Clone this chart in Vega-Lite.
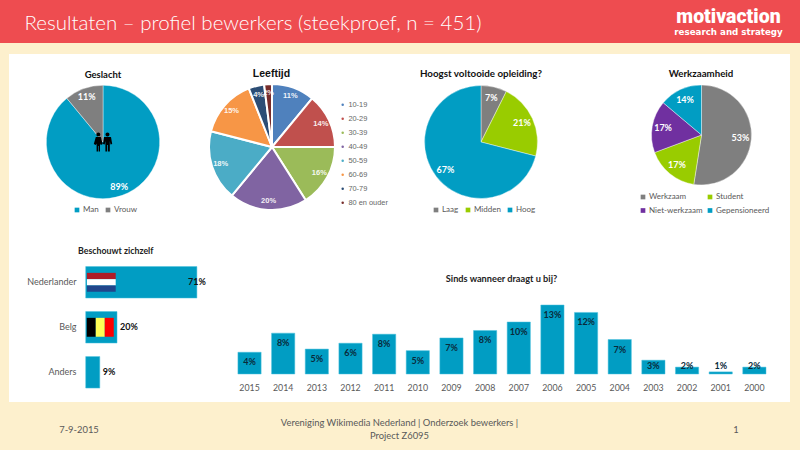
{
"$schema":"https://vega.github.io/schema/vega-lite/v6.json",
"background":"#FDF0CD",
"padding":0,
"config":{"view":{"stroke":null},"concat":{"spacing":0},"font":"Lato",
 "legend":{"title":null,"labelFont":"Lato","labelFontSize":8,"labelColor":"#595959","symbolType":"square","symbolSize":22,"symbolStrokeWidth":0,"orient":"none","labelOffset":2}},
"spacing":11,
"resolve":{"scale":{"color":"independent","shape":"independent"},"legend":{"color":"independent"}},
"vconcat":[
 {"hconcat":[
  {"width":657,"height":43,"view":{"fill":"#EE4C50","stroke":null},
   "data":{"values":[{"titel":"Resultaten – profiel bewerkers (steekproef, n = 451)"}]},
   "mark":{"type":"text","font":"Lato","fontWeight":300,"fontSize":20.5,"color":"white","align":"center","baseline":"middle","dx":-75.5,"dy":2},
   "encoding":{"text":{"field":"titel"}}},
  {"width":143,"height":43,"view":{"fill":"#EE4C50","stroke":null},
   "layer":[
    {"data":{"values":[{"logo":"motivaction"}]},
     "mark":{"type":"text","font":"Roboto","fontWeight":900,"fontSize":19.5,"color":"white","align":"center","baseline":"middle","dy":-4.5},
     "encoding":{"text":{"field":"logo"}}},
    {"data":{"values":[{"logo":"research and strategy"}]},
     "mark":{"type":"text","font":"DejaVu Sans","fontWeight":"bold","fontSize":8.7,"color":"white","align":"center","baseline":"middle","dy":10.2},
     "encoding":{"text":{"field":"logo"}}}
   ]}
 ]},
 {"hconcat":[
  {"width":9,"height":348,"view":{"fill":null,"stroke":null},"data":{"values":[{"leeg":""}]},"mark":"text","encoding":{}},
  {"resolve":{"scale":{"color":"independent","shape":"independent"},"legend":{"color":"independent"}},
   "vconcat":[
   {"resolve":{"scale":{"color":"independent"},"legend":{"color":"independent"}},
    "hconcat":[
    {"width":188,"height":178,"view":{"fill":"white","stroke":null},
     "title":{"text":"Geslacht","font":"Lato","fontSize":9.5,"fontWeight":"bold","color":"#111111","anchor":"middle","frame":"group","offset":-25},
     "data":{"values":[{"geslacht":"Man","pct":89,"label":"89%","i":1},{"geslacht":"Vrouw","pct":11,"label":"11%","i":2}]},
     "layer":[
      {"mark":{"type":"arc","outerRadius":56.7,"yOffset":-1,"stroke":"#FFFFFF","strokeWidth":0.4},
       "encoding":{"theta":{"field":"pct","type":"quantitative","stack":true},"order":{"field":"i"},
        "color":{"field":"geslacht","type":"nominal","scale":{"domain":["Man","Vrouw"],"range":["#019DC3","#7F7F7F"]},
         "legend":{"direction":"horizontal","legendX":64,"legendY":152,"columnPadding":5}}}},
      {"mark":{"type":"text","radius":48,"yOffset":-1,"color":"white","font":"Lato","fontWeight":"bold","fontSize":9,"align":"center","baseline":"middle"},
       "encoding":{"theta":{"field":"pct","type":"quantitative","stack":true},"order":{"field":"i"},"text":{"field":"label"}}},
      {"data":{"values":[{"pictogram":"personen"}]},
       "mark":{"type":"point","filled":true,"opacity":1,"color":"black","size":400,"yOffset":-1,"strokeWidth":0,
        "shape":"M-0.67 -0.75a0.2 0.2 0 1 0 0.4 0a0.2 0.2 0 1 0 -0.4 0ZM-0.72 -0.5H-0.22L-0.02 0.2L-0.22 0.3L-0.3 0.15V0.95H-0.44V0.4H-0.5V0.95H-0.64V0.15L-0.72 0.3L-0.92 0.2ZM0.25 -0.75a0.2 0.2 0 1 0 0.4 0a0.2 0.2 0 1 0 -0.4 0ZM0.1 -0.5H0.8L0.92 0.2L0.75 0.25L0.68 -0.1V0.95H0.5V0.3H0.42V0.95H0.24V-0.1L0.17 0.25L0 0.2Z"},
       "encoding":{}}
     ]},
    {"width":203,"height":178,"view":{"fill":"white","stroke":null},
     "title":{"text":"Leeftijd","font":"Liberation Sans","fontSize":10.5,"fontWeight":"bold","color":"#111111","anchor":"middle","frame":"group","offset":-25,"dx":-27},
     "data":{"values":[{"leeftijd":"10-19","pct":11,"label":"11%","i":1},{"leeftijd":"20-29","pct":14,"label":"14%","i":2},{"leeftijd":"30-39","pct":16,"label":"16%","i":3},{"leeftijd":"40-49","pct":20,"label":"20%","i":4},{"leeftijd":"50-59","pct":18,"label":"18%","i":5},{"leeftijd":"60-69","pct":15,"label":"15%","i":6},{"leeftijd":"70-79","pct":4,"label":"4%","i":7},{"leeftijd":"80 en ouder","pct":2,"label":"2%","i":8}]},
     "layer":[
      {"mark":{"type":"arc","outerRadius":63,"xOffset":-26.5,"yOffset":4,"stroke":"white","strokeWidth":2},
       "encoding":{"theta":{"field":"pct","type":"quantitative","stack":true},"order":{"field":"i"},
        "color":{"field":"leeftijd","type":"nominal","scale":{"domain":["10-19","20-29","30-39","40-49","50-59","60-69","70-79","80 en ouder"],"range":["#4F81BD","#C0504D","#9BBB59","#8064A2","#4BACC6","#F79646","#2C4D75","#772C2A"]},
         "legend":{"direction":"vertical","legendX":142,"legendY":47,"symbolType":"circle","symbolSize":6,"labelFont":"Liberation Sans","labelFontSize":7.4,"labelColor":"#666666","rowPadding":5,"labelOffset":2}}}},
      {"mark":{"type":"text","radius":54,"xOffset":-26.5,"yOffset":4,"color":"white","font":"Liberation Sans","fontWeight":"bold","fontSize":7.5,"opacity":0.9,"align":"center","baseline":"middle"},
       "encoding":{"theta":{"field":"pct","type":"quantitative","stack":true},"order":{"field":"i"},"text":{"field":"label"}}}
     ]},
    {"width":230,"height":178,"view":{"fill":"white","stroke":null},
     "title":{"text":"Hoogst voltooide opleiding?","font":"Lato","fontSize":9.8,"fontWeight":"bold","color":"#111111","anchor":"middle","frame":"group","offset":-25,"dx":-34},
     "data":{"values":[{"opleiding":"Laag","pct":7.4,"label":"7%","i":1},{"opleiding":"Midden","pct":21.6,"label":"21%","i":2},{"opleiding":"Hoog","pct":71,"label":"67%","i":3}]},
     "layer":[
      {"mark":{"type":"arc","outerRadius":56.5,"xOffset":-34,"yOffset":-1,"stroke":"#FFFFFF","strokeWidth":0.4},
       "encoding":{"theta":{"field":"pct","type":"quantitative","stack":true},"order":{"field":"i"},
        "color":{"field":"opleiding","type":"nominal","scale":{"domain":["Laag","Midden","Hoog"],"range":["#7F7F7F","#99CC00","#019DC3"]},
         "legend":{"direction":"horizontal","legendX":32,"legendY":152,"columnPadding":5}}}},
      {"mark":{"type":"text","radius":45,"xOffset":-34,"yOffset":-1,"color":"white","font":"Lato","fontWeight":"bold","fontSize":9,"align":"center","baseline":"middle"},
       "encoding":{"theta":{"field":"pct","type":"quantitative","stack":true},"order":{"field":"i"},"text":{"field":"label"}}}
     ]},
    {"width":160,"height":178,"view":{"fill":"white","stroke":null},
     "title":{"text":"Werkzaamheid","font":"Lato","fontSize":9.7,"fontWeight":"bold","color":"#111111","anchor":"middle","frame":"group","offset":-25,"dx":-9},
     "data":{"values":[{"werk":"Werkzaam","pct":53,"label":"53%","i":1},{"werk":"Student","pct":17,"label":"17%","i":2},{"werk":"Niet-werkzaam","pct":17,"label":"17%","i":3},{"werk":"Gepensioneerd","pct":14,"label":"14%","i":4}]},
     "layer":[
      {"mark":{"type":"arc","outerRadius":50,"xOffset":-8.5,"yOffset":-8,"stroke":"#FFFFFF","strokeWidth":0.4},
       "encoding":{"theta":{"field":"pct","type":"quantitative","stack":true},"order":{"field":"i"},
        "color":{"field":"werk","type":"nominal","scale":{"domain":["Werkzaam","Student","Niet-werkzaam","Gepensioneerd"],"range":["#7F7F7F","#99CC00","#7030A0","#019DC3"]},
         "legend":{"direction":"horizontal","columns":2,"legendX":9,"legendY":139,"columnPadding":3,"rowPadding":5.5}}}},
      {"mark":{"type":"text","radius":39,"xOffset":-8.5,"yOffset":-8,"color":"white","font":"Lato","fontWeight":"bold","fontSize":9,"align":"center","baseline":"middle"},
       "encoding":{"theta":{"field":"pct","type":"quantitative","stack":true},"order":{"field":"i"},"text":{"field":"label"}}}
     ]}
   ]},
   {"resolve":{"scale":{"color":"independent","shape":"independent"}},
    "hconcat":[
    {"width":216,"height":170,"view":{"fill":"white","stroke":null},
     "title":{"text":"Beschouwt zichzelf","font":"Lato","fontSize":8.8,"fontWeight":"bold","color":"#222222","anchor":"start","frame":"group","offset":-24,"dx":69},
     "data":{"values":[{"land":"Nederlander","pct":71,"label":"71%"},{"land":"Belg","pct":20,"label":"20%"},{"land":"Anders","pct":9,"label":"9%"}]},
     "encoding":{"y":{"field":"land","type":"nominal","sort":null,"scale":{"range":[27.8,162.8],"paddingInner":0.3,"paddingOuter":0.15},
       "axis":{"title":null,"domain":false,"ticks":false,"offset":-67,"labelPadding":0,"labelFont":"Lato","labelFontSize":9,"labelColor":"#595959"}}},
     "layer":[
      {"mark":{"type":"bar","color":"#019DC3","stroke":"#4FC3DE","strokeWidth":0.5},
       "encoding":{"x":{"field":"pct","type":"quantitative","scale":{"domain":[0,71],"range":[76.7,187.9],"nice":false},"axis":null}}},
      {"data":{"values":[{"land":"Nederlander","baan":"nl-rood"},{"land":"Nederlander","baan":"nl-wit"},{"land":"Nederlander","baan":"nl-blauw"},{"land":"Belg","baan":"be-zwart"},{"land":"Belg","baan":"be-geel"},{"land":"Belg","baan":"be-rood"}]},
       "mark":{"type":"point","filled":true,"opacity":1,"size":900,"strokeWidth":0},
       "encoding":{"x":{"datum":0,"type":"quantitative"},
        "shape":{"field":"baan","type":"nominal","legend":null,"scale":{"domain":["nl-rood","nl-wit","nl-blauw","be-zwart","be-geel","be-rood"],"range":["M0.08 -0.63H2V-0.21H0.08Z","M0.08 -0.21H2V0.21H0.08Z","M0.08 0.21H2V0.63H0.08Z","M0.07 -0.63H0.67V0.63H0.07Z","M0.67 -0.63H1.27V0.63H0.67Z","M1.27 -0.63H1.87V0.63H1.27Z"]}},
        "color":{"field":"baan","type":"nominal","legend":null,"scale":{"domain":["nl-rood","nl-wit","nl-blauw","be-zwart","be-geel","be-rood"],"range":["#AE1C28","#FFFFFF","#21468B","#000000","#FFFF55","#FF0000"]}}}},
      {"transform":[{"filter":"datum.pct >= 50"}],
       "mark":{"type":"text","font":"Lato","fontWeight":"bold","fontSize":9,"color":"#111111","align":"center","baseline":"middle"},
       "encoding":{"x":{"field":"pct","type":"quantitative"},"text":{"field":"label"}}},
      {"transform":[{"filter":"datum.pct < 50"}],
       "mark":{"type":"text","font":"Lato","fontWeight":"bold","fontSize":9,"color":"#111111","align":"left","baseline":"middle","dx":3},
       "encoding":{"x":{"field":"pct","type":"quantitative"},"text":{"field":"label"}}}
     ]},
    {"width":565,"height":170,"view":{"fill":"white","stroke":null},
     "title":{"text":"Sinds wanneer draagt u bij?","font":"Lato","fontSize":9.2,"fontWeight":"bold","color":"#222222","anchor":"middle","frame":"group","offset":-52,"dx":-6},
     "data":{"values":[{"jaar":"2015","pct":4.1,"label":"4%"},{"jaar":"2014","pct":7.7,"label":"8%"},{"jaar":"2013","pct":4.7,"label":"5%"},{"jaar":"2012","pct":5.8,"label":"6%"},{"jaar":"2011","pct":7.5,"label":"8%"},{"jaar":"2010","pct":4.4,"label":"5%"},{"jaar":"2009","pct":6.8,"label":"7%"},{"jaar":"2008","pct":8.2,"label":"8%"},{"jaar":"2007","pct":9.8,"label":"10%"},{"jaar":"2006","pct":13,"label":"13%"},{"jaar":"2005","pct":11.6,"label":"12%"},{"jaar":"2004","pct":6.5,"label":"7%"},{"jaar":"2003","pct":2.6,"label":"3%"},{"jaar":"2002","pct":1.3,"label":"2%"},{"jaar":"2001","pct":0.4,"label":"1%"},{"jaar":"2000","pct":1.3,"label":"2%"}]},
     "encoding":{"x":{"field":"jaar","type":"ordinal","sort":null,"scale":{"range":[7.7,546.2],"paddingInner":0.31,"paddingOuter":0.155},
       "axis":{"title":null,"domain":false,"ticks":false,"labelAngle":0,"offset":-28,"labelPadding":9,"labelFont":"Lato","labelFontSize":8.8,"labelColor":"#595959"}}},
     "layer":[
      {"mark":{"type":"bar","color":"#019DC3","stroke":"#4FC3DE","strokeWidth":0.5},
       "encoding":{"y":{"field":"pct","type":"quantitative","scale":{"domain":[0,13],"range":[142,73],"nice":false},"axis":null}}},
      {"transform":[{"filter":"datum.pct >= 3"}],
       "mark":{"type":"text","font":"Lato","fontWeight":"bold","fontSize":9,"color":"#0A2A3A","align":"center","baseline":"middle","dy":10},
       "encoding":{"y":{"field":"pct","type":"quantitative"},"text":{"field":"label"}}},
      {"transform":[{"filter":"datum.pct < 3"}],
       "mark":{"type":"text","font":"Lato","fontWeight":"bold","fontSize":9,"color":"#0A2A3A","align":"center","baseline":"middle"},
       "encoding":{"y":{"datum":1.5,"type":"quantitative"},"text":{"field":"label"}}}
     ]}
   ]}
  ]}
 ]},
 {"hconcat":[
  {"width":158,"height":37,"view":{"fill":null,"stroke":null},
   "data":{"values":[{"voet":"7-9-2015"}]},
   "mark":{"type":"text","font":"Lato","fontSize":9.4,"color":"#595959","align":"center","baseline":"middle","dy":-1.5},
   "encoding":{"text":{"field":"voet"}}},
  {"width":483,"height":37,"view":{"fill":null,"stroke":null},
   "data":{"values":[{"voet":"Vereniging Wikimedia Nederland | Onderzoek bewerkers |\nProject Z6095"}]},
   "mark":{"type":"text","font":"Lato","fontSize":9.4,"color":"#595959","align":"center","baseline":"middle","lineBreak":"\n","lineHeight":12.5,"dy":-8.5},
   "encoding":{"text":{"field":"voet"}}},
  {"width":159,"height":37,"view":{"fill":null,"stroke":null},
   "data":{"values":[{"voet":"1"}]},
   "mark":{"type":"text","font":"Lato","fontSize":9.4,"color":"#595959","align":"center","baseline":"middle","dx":15.5,"dy":-1.5},
   "encoding":{"text":{"field":"voet"}}}
 ]}
]
}
